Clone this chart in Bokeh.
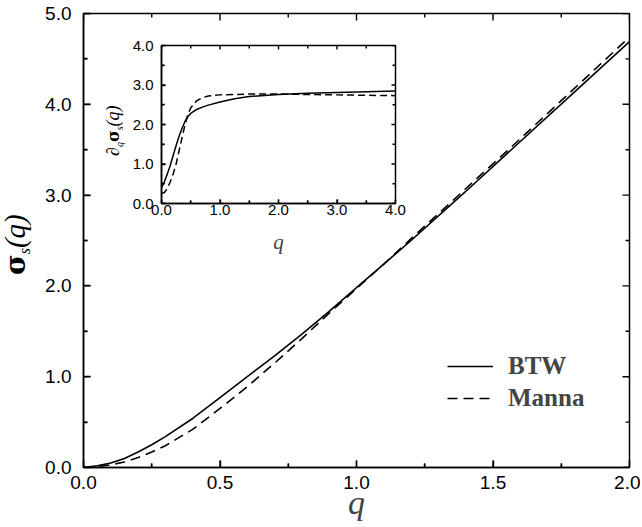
from bokeh.plotting import figure
from bokeh.models import (Legend, LegendItem, FixedTicker,
                          PrintfTickFormatter, Column, Div)
from bokeh.embed import file_html
from bokeh.resources import INLINE

# ---------------- data ----------------
q_main = [0, 0.05, 0.1, 0.15, 0.2, 0.25, 0.3, 0.4, 0.5, 0.6, 0.7, 0.8, 0.9,
          1.0, 1.1, 1.2, 1.4, 1.6, 1.8, 2.0]
btw_main = [0, 0.02, 0.05, 0.10, 0.17, 0.25, 0.34, 0.54, 0.77, 1.00, 1.23,
            1.47, 1.72, 1.98, 2.24, 2.50, 3.04, 3.59, 4.14, 4.69]
manna_main = [0, 0.01, 0.03, 0.06, 0.11, 0.17, 0.24, 0.42, 0.65, 0.89, 1.15,
              1.42, 1.70, 1.97, 2.24, 2.52, 3.07, 3.62, 4.18, 4.74]

q_inset = [0, 0.05, 0.1, 0.15, 0.2, 0.25, 0.3, 0.35, 0.4, 0.45, 0.5, 0.6,
           0.7, 0.8, 1.0, 1.25, 1.5, 2.0, 2.5, 3.0, 3.5, 4.0]
btw_inset = [0.40, 0.55, 0.75, 0.97, 1.22, 1.47, 1.70, 1.90, 2.07, 2.20, 2.28,
             2.38, 2.44, 2.49, 2.57, 2.65, 2.71, 2.76, 2.79, 2.81, 2.83, 2.85]
manna_inset = [0.25, 0.28, 0.38, 0.55, 0.75, 1.00, 1.33, 1.66, 1.98, 2.25,
               2.42, 2.60, 2.68, 2.72, 2.75, 2.76, 2.77, 2.77, 2.76, 2.75,
               2.74, 2.73]

main_xticks = [0.0, 0.5, 1.0, 1.5, 2.0]
main_xminor = [0.25, 0.75, 1.25, 1.75]
main_yticks = [0.0, 1.0, 2.0, 3.0, 4.0, 5.0]
main_yminor = [0.5, 1.5, 2.5, 3.5, 4.5]
inset_xticks = [0.0, 1.0, 2.0, 3.0, 4.0]
inset_xminor = [0.5, 1.5, 2.5, 3.5]
inset_yticks = [0.0, 1.0, 2.0, 3.0, 4.0]
inset_yminor = [0.5, 1.5, 2.5, 3.5]

SANS = "Liberation Sans"
SERIF = "Liberation Serif"


def style_axes(p, xt, xm, yt, ym, label_size, xstand, ystand, major, minor):
    p.xaxis.ticker = FixedTicker(ticks=xt, minor_ticks=xm)
    p.yaxis.ticker = FixedTicker(ticks=yt, minor_ticks=ym)
    for ax in p.axis:
        ax.formatter = PrintfTickFormatter(format="%.1f")
        ax.axis_line_color = "black"
        ax.axis_line_width = 1.5
        ax.major_tick_line_color = "black"
        ax.minor_tick_line_color = "black"
        ax.major_tick_line_width = 1.4
        ax.minor_tick_line_width = 1.4
        ax.major_tick_in = major
        ax.major_tick_out = 0
        ax.minor_tick_in = minor
        ax.minor_tick_out = 0
        ax.major_label_text_font = SANS
        ax.major_label_text_font_size = label_size
        ax.major_label_text_color = "black"
    p.xaxis.major_label_standoff = xstand
    p.yaxis.major_label_standoff = ystand
    p.grid.visible = False
    p.outline_line_color = "black"
    p.outline_line_width = 1.5


def inner_ticks(p, xt, xm, yt, ym, xr, yr, px_w, px_h, major, minor):
    # inward tick marks on all four frame edges, one short line per tick;
    # lengths converted from pixels to data units using the frame size
    x0, x1 = xr
    y0, y1 = yr
    dx = (x1 - x0) / px_w
    dy = (y1 - y0) / px_h
    kw = dict(line_color="black", line_width=1.4)
    for ticks, ln in ((xt, major), (xm, minor)):
        for t in ticks:
            p.line([t, t], [y0, y0 + ln * dy], **kw)
            p.line([t, t], [y1, y1 - ln * dy], **kw)
    for ticks, ln in ((yt, major), (ym, minor)):
        for t in ticks:
            p.line([x0, x0 + ln * dx], [t, t], **kw)
            p.line([x1, x1 - ln * dx], [t, t], **kw)


# ---------------- main figure ----------------
p = figure(width=640, height=525, x_range=(0, 2), y_range=(0, 5),
           output_backend="svg", toolbar_location=None,
           min_border_left=83, min_border_right=11, min_border_top=13,
           min_border_bottom=58)
style_axes(p, main_xticks, main_xminor, main_yticks, main_yminor,
           "19px", 8, 12, 7, 4)
p.xaxis.axis_label = "q"
p.xaxis.axis_label_text_font = SERIF
p.xaxis.axis_label_text_font_style = "italic"
p.xaxis.axis_label_text_font_size = "34px"
p.xaxis.axis_label_standoff = -8

r_btw = p.line(q_main, btw_main, line_color="black", line_width=1.6)
r_manna = p.line(q_main, manna_main, line_color="black", line_width=1.6,
                 line_dash="10 6")
inner_ticks(p, main_xticks, main_xminor, main_yticks, main_yminor,
            (0, 2), (0, 5), 546, 454, 7, 4)

legend = Legend(items=[LegendItem(label="BTW", renderers=[r_btw]),
                       LegendItem(label="Manna", renderers=[r_manna])],
                location=(364, 54))
legend.label_text_font = SERIF
legend.label_text_font_style = "bold"
legend.label_text_font_size = "25px"
legend.border_line_alpha = 0
legend.background_fill_alpha = 0
legend.padding = 0
legend.margin = 0
legend.glyph_width = 46
legend.glyph_height = 30
legend.label_height = 30
legend.label_standoff = 15
legend.spacing = 2
p.add_layout(legend)

# main y-axis label as rich text (bold sigma, italic subscript s, italic (q))
ylab_html = ('<span style="font-family:\'DejaVu Serif\';font-weight:bold;'
             'font-size:28px;">σ</span>'
             '<span style="font-family:\'Liberation Serif\';font-style:italic;'
             'font-size:16px;position:relative;top:5px;">s</span>'
             '<span style="font-family:\'Liberation Serif\';font-style:italic;'
             'font-size:29px;">(q)</span>')
ylab = Div(text=ylab_html, width=60, height=30,
           styles={"position": "absolute", "left": "-20px", "top": "225px",
                   "transform": "rotate(-90deg)",
                   "transform-origin": "center center",
                   "line-height": "30px", "white-space": "nowrap",
                   "color": "black"})

# ---------------- inset figure ----------------
# (its left border equals the main one, since a column aligns plot frames)
pi = figure(width=328, height=221, x_range=(0, 4), y_range=(0, 4),
            output_backend="svg", toolbar_location=None,
            min_border_left=83, min_border_right=11, min_border_top=10,
            min_border_bottom=50, border_fill_alpha=0)
style_axes(pi, inset_xticks, inset_xminor, inset_yticks, inset_yminor,
           "15px", 1, 8, 4, 3)
pi.xaxis.axis_label = "q"
pi.xaxis.axis_label_text_font = SERIF
pi.xaxis.axis_label_text_font_style = "italic"
pi.xaxis.axis_label_text_font_size = "21px"
pi.xaxis.axis_label_standoff = 12
pi.line(q_inset, btw_inset, line_color="black", line_width=1.5)
pi.line(q_inset, manna_inset, line_color="black", line_width=1.5,
        line_dash="7 4")
inner_ticks(pi, inset_xticks, inset_xminor, inset_yticks, inset_yminor,
            (0, 4), (0, 4), 234, 161, 4, 3)
pi.styles = {"position": "absolute", "left": "78px", "top": "35px"}

# inset y-axis label: d_q sigma_s(q)
ilab_html = ('<span style="font-family:\'Liberation Serif\';'
             'font-size:18px;">∂</span>'
             '<span style="font-family:\'Liberation Serif\';font-style:italic;'
             'font-size:10px;position:relative;top:4px;">q</span>'
             '<span style="font-family:\'DejaVu Serif\';font-weight:bold;'
             'font-size:16px;">σ</span>'
             '<span style="font-family:\'Liberation Serif\';font-style:italic;'
             'font-size:10px;position:relative;top:4px;">s</span>'
             '<span style="font-family:\'Liberation Serif\';font-style:italic;'
             'font-size:18px;">(q)</span>')
ilab = Div(text=ilab_html, width=60, height=24,
           styles={"position": "absolute", "left": "78px", "top": "109px",
                   "transform": "rotate(-90deg)",
                   "transform-origin": "center center",
                   "line-height": "24px", "white-space": "nowrap",
                   "color": "black"})

layout = Column(children=[p, pi, ylab, ilab])
open("out.html", "w").write(file_html(layout, INLINE))
